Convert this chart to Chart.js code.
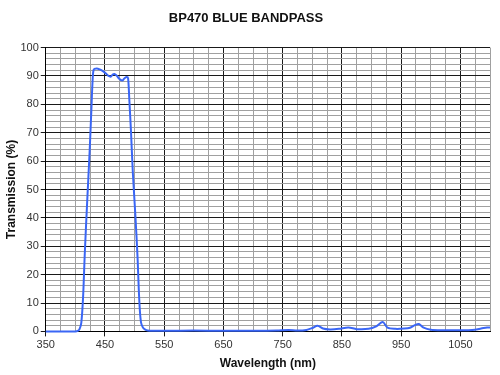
<!DOCTYPE html>
<html>
<head>
<meta charset="utf-8">
<script src="https://cdn.jsdelivr.net/npm/chart.js@4/dist/chart.umd.min.js"></script>
<style>
  html, body { margin: 0; padding: 0; background: #fff; }
  #wrap { width: 500px; height: 375px; }
</style>
</head>
<body>
<div id="wrap"><canvas id="chart" width="500" height="375"></canvas></div>
<script>
// Transmission curve
const wavelengths = [350, 400, 404, 407, 410, 413, 416, 420, 424, 427, 429, 431, 436, 441, 447, 452, 456, 460, 463, 466, 470, 474, 479, 483, 487, 489, 491, 494, 497, 501, 505, 507, 509, 511, 514, 518, 522, 530, 560, 600, 650, 700, 740, 760, 775, 790, 800, 809, 818, 830, 845, 861, 875, 895, 908, 919, 927, 940, 955, 965, 973, 980, 988, 1000, 1020, 1050, 1070, 1085, 1095, 1100];
const transmission = [0, 0, 0.2, 0.8, 3, 12, 28, 46, 63, 78, 88, 92.3, 92.6, 92.3, 91.6, 90.8, 90.0, 89.8, 90.5, 90.7, 90.1, 89.0, 88.4, 89.2, 89.6, 89.2, 82, 70, 56, 42, 26, 15, 7, 3, 1.4, 0.6, 0.3, 0.2, 0.2, 0.3, 0.2, 0.2, 0.3, 0.5, 0.3, 0.5, 1.2, 2.0, 1.0, 0.7, 0.9, 1.4, 0.8, 0.9, 1.8, 3.3, 1.3, 0.9, 1.0, 1.3, 2.2, 2.6, 1.3, 0.6, 0.4, 0.4, 0.5, 1.0, 1.4, 1.4];

const xTickLabels = [350, 450, 550, 650, 750, 850, 950, 1050];
const yTickLabels = [0, 10, 20, 30, 40, 50, 60, 70, 80, 90, 100];

const FONT = 'Liberation Sans, Arial, sans-serif';

const isXMajor = v => xTickLabels.includes(v);
const isYMajor = v => yTickLabels.includes(v);

new Chart(document.getElementById('chart').getContext('2d'), {
  type: 'line',
  data: {
    datasets: [{
      data: wavelengths.map((w, i) => ({ x: w, y: transmission[i] })),
      borderColor: '#3a66f5',
      borderWidth: 2,
      pointRadius: 0,
      tension: 0.3,
      fill: false,
      clip: 4
    }]
  },
  options: {
    responsive: false,
    animation: false,
    devicePixelRatio: 1,
    layout: { padding: { left: 2, right: 10, top: 8, bottom: 2 } },
    plugins: {
      legend: { display: false },
      tooltip: { enabled: false },
      title: {
        display: true,
        text: 'BP470 BLUE BANDPASS',
        color: '#111',
        font: { family: FONT, size: 13, weight: 'bold' },
        padding: { top: 3, bottom: 21 }
      }
    },
    scales: {
      x: {
        type: 'linear',
        min: 350,
        max: 1100,
        border: { color: '#000', width: 1 },
        grid: {
          color: ctx => isXMajor(ctx.tick.value) ? '#1a1a1a' : '#a0a0a0',
          tickColor: ctx => isXMajor(ctx.tick.value) ? '#1a1a1a' : 'rgba(0,0,0,0)',
          tickLength: 5,
          lineWidth: 1
        },
        ticks: {
          stepSize: 25,
          autoSkip: false,
          maxRotation: 0,
          color: '#333',
          font: { family: FONT, size: 11 },
          padding: 2,
          callback: v => isXMajor(v) ? String(v) : ''
        },
        title: {
          display: true,
          text: 'Wavelength (nm)',
          color: '#111',
          font: { family: FONT, size: 12, weight: 'bold' },
          padding: { top: 3, bottom: 2 }
        }
      },
      y: {
        min: 0,
        max: 100,
        border: { color: '#000', width: 1 },
        grid: {
          color: ctx => isYMajor(ctx.tick.value) ? '#1a1a1a' : '#a0a0a0',
          tickColor: ctx => isYMajor(ctx.tick.value) ? '#1a1a1a' : 'rgba(0,0,0,0)',
          tickLength: 5,
          lineWidth: 1
        },
        ticks: {
          stepSize: 2,
          autoSkip: false,
          color: '#333',
          font: { family: FONT, size: 11 },
          padding: 2,
          callback: v => isYMajor(v) ? String(v) : ''
        },
        title: {
          display: true,
          text: 'Transmission (%)',
          color: '#111',
          font: { family: FONT, size: 12, weight: 'bold' },
          padding: { top: 2, bottom: 0 }
        }
      }
    }
  }
});
</script>
</body>
</html>
